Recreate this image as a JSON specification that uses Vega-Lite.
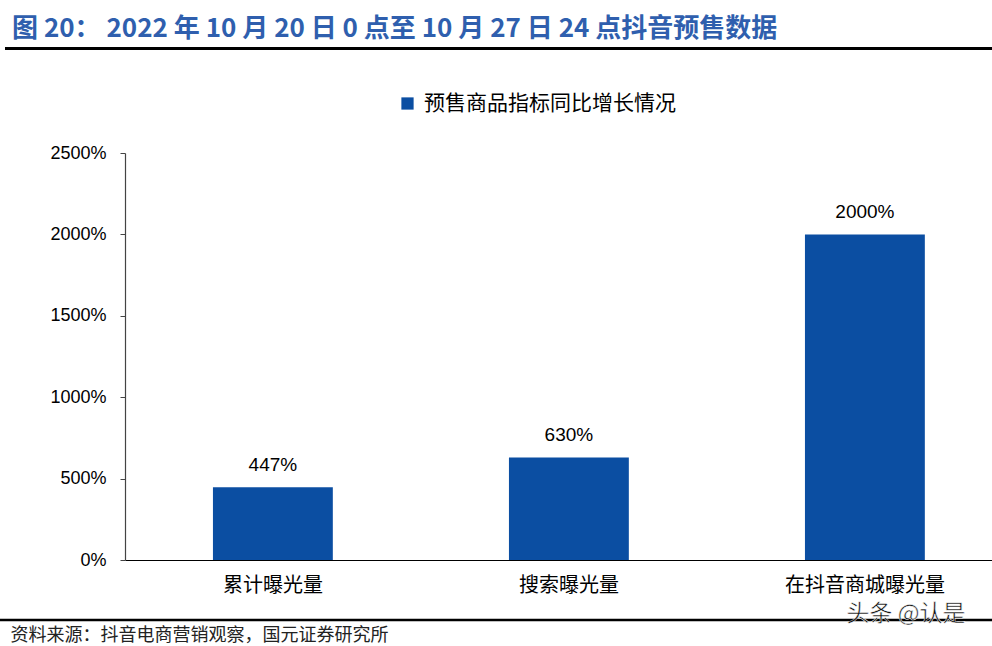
{
  "$schema": "https://vega.github.io/schema/vega-lite/v6.json",
  "autosize": "none",
  "width": 867,
  "height": 407,
  "padding": {"left": 125, "top": 153, "right": 0, "bottom": 86},
  "background": "white",
  "title": {
    "text": "图 20： 2022 年 10 月 20 日 0 点至 10 月 27 日 24 点抖音预售数据",
    "anchor": "start",
    "frame": "group",
    "dx": -113,
    "offset": 5,
    "font": "Noto Sans CJK SC",
    "fontSize": 26,
    "fontWeight": "bold",
    "color": "#2f5fae"
  },
  "config": {
    "view": {"stroke": null},
    "font": "Liberation Sans"
  },
  "data": {
    "values": [
      {"cat": "累计曝光量", "v": 447, "label": "447%", "series": "预售商品指标同比增长情况"},
      {"cat": "搜索曝光量", "v": 630, "label": "630%", "series": "预售商品指标同比增长情况"},
      {"cat": "在抖音商城曝光量", "v": 2000, "label": "2000%", "series": "预售商品指标同比增长情况"}
    ]
  },
  "encoding": {
    "x": {
      "field": "cat",
      "type": "nominal",
      "sort": null,
      "scale": {"paddingInner": 0.595, "paddingOuter": 0.262, "align": 0.567},
      "axis": {
        "title": "资料来源：抖音电商营销观察，国元证券研究所",
        "titleFont": "Noto Sans CJK SC",
        "titleFontSize": 18,
        "titleFontWeight": "normal",
        "titleColor": "#222",
        "titleAnchor": "start",
        "titleAlign": "left",
        "titleBaseline": "alphabetic",
        "titleX": -115,
        "titleY": 80,
        "labelAngle": 0,
        "labelFont": "Noto Sans CJK SC",
        "labelFontSize": 20,
        "labelColor": "#000",
        "labelPadding": 15,
        "ticks": false,
        "domainColor": "#000",
        "domainWidth": 1
      }
    },
    "y": {
      "field": "v",
      "type": "quantitative",
      "scale": {"domain": [0, 2500], "nice": false},
      "axis": {
        "title": null,
        "values": [0, 500, 1000, 1500, 2000, 2500],
        "labelExpr": "datum.value + '%'",
        "labelFont": "Liberation Sans",
        "labelFontSize": 18,
        "labelColor": "#000",
        "labelPadding": 14,
        "tickSize": 5,
        "tickColor": "#444",
        "domainColor": "#444",
        "domainWidth": 1.2,
        "grid": false
      }
    }
  },
  "layer": [
    {
      "mark": {"type": "bar", "color": "#0b4ea2"},
      "encoding": {
        "color": {
          "field": "series",
          "type": "nominal",
          "scale": {"range": ["#0b4ea2"]},
          "legend": {
            "title": null,
            "orient": "none",
            "legendX": 272,
            "legendY": -60,
            "symbolType": "square",
            "symbolSize": 150,
            "symbolStrokeWidth": 0,
            "labelFont": "Noto Sans CJK SC",
            "labelFontSize": 21,
            "labelLimit": 0,
            "labelColor": "#000",
            "labelOffset": 6
          }
        }
      }
    },
    {
      "mark": {"type": "text", "baseline": "bottom", "dy": -12, "font": "Liberation Sans", "fontSize": 19, "color": "#000"},
      "encoding": {"text": {"field": "label"}}
    },
    {
      "data": {"values": [{"y": 3142}]},
      "mark": {"type": "rule", "color": "#000", "strokeWidth": 3},
      "encoding": {
        "y": {"field": "y", "type": "quantitative"},
        "x": {"value": -120},
        "x2": {"value": 867}
      }
    },
    {
      "data": {"values": [{"y": -368}]},
      "mark": {"type": "rule", "color": "#000", "strokeWidth": 2.5},
      "encoding": {
        "y": {"field": "y", "type": "quantitative"},
        "x": {"value": -125},
        "x2": {"value": 867}
      }
    },
    {
      "data": {"values": [{"y": -330, "t": "头条 @认是"}]},
      "mark": {"type": "text", "font": "Noto Sans CJK SC", "fontSize": 23, "color": "#111", "baseline": "middle", "align": "center", "stroke": "white", "strokeWidth": 0.5},
      "encoding": {
        "y": {"field": "y", "type": "quantitative"},
        "x": {"value": 781},
        "text": {"field": "t"}
      }
    }
  ]
}
